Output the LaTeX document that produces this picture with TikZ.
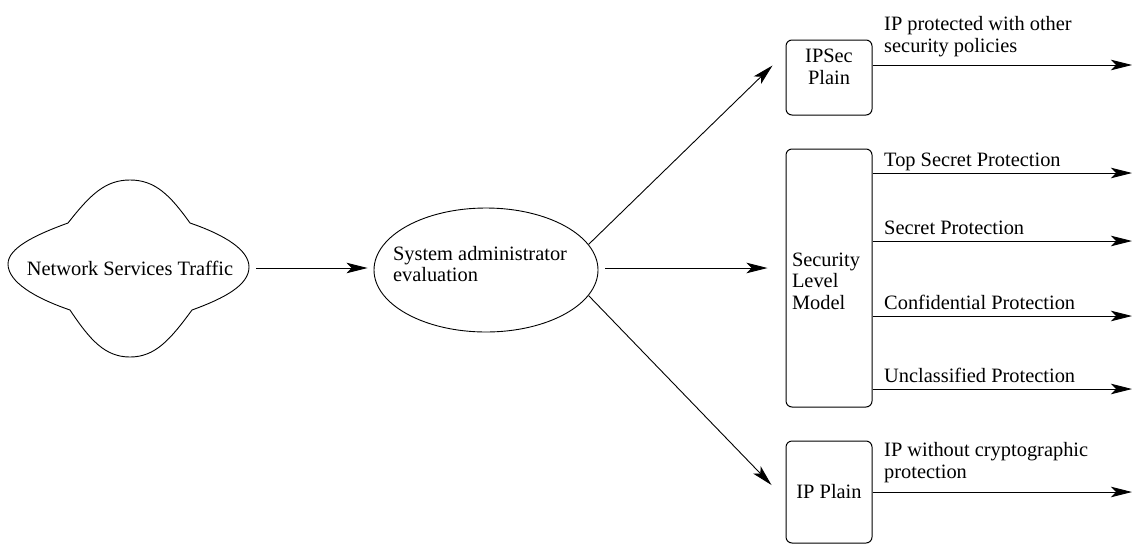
\documentclass[tikz,border=0pt]{standalone}
\usepackage{fontspec}
\setmainfont{Liberation Serif}
\usetikzlibrary{shapes.geometric,arrows.meta}
\begin{document}
\begin{tikzpicture}[x=1pt,y=-1pt,
  every node/.style={font=\fontsize{20.4}{21.5}\selectfont},
  arr/.style={line width=0.9pt,-{Stealth[length=21pt,width=10.5pt,inset=5pt]}},
  boxnode/.style={draw,line width=1pt,rounded corners=6pt,minimum width=86pt,inner sep=0pt},
  lbl/.style={anchor=base west,inner sep=0pt,align=left}]
\useasboundingbox (0,0) rectangle (1132,544);
% cloud
\draw[line width=0.9pt] (68,223) .. controls (90,195) and (105,180) .. (130,180)
  .. controls (155,180) and (170,195) .. (190,223)
  .. controls (225,235) and (249,250) .. (249,267)
  .. controls (249,285) and (225,298) .. (192,310)
  .. controls (170,340) and (155,357) .. (130,357)
  .. controls (105,357) and (90,340) .. (70,310)
  .. controls (35,298) and (8,282) .. (8,264)
  .. controls (8,248) and (35,235) .. (68,223) -- cycle;
\node[inner sep=0pt] (net) at (130,268) {Network Services Traffic};
\coordinate (netR) at (256,268);
% ellipse
\node[draw,ellipse,line width=0.9pt,minimum width=224pt,minimum height=124pt,inner sep=0pt] (eval) at (486,270) {};
\node[align=left,inner sep=0pt] (evaltxt) at (480,264) {System administrator\\evaluation};
% boxes
\node[boxnode,minimum height=75pt] (ipsec) at (829,77.5) {};
\node[align=center,inner sep=0pt] (ipsectxt) at (829,67) {IPSec\\Plain};
\node[boxnode,minimum height=258pt] (slm) at (829,278) {};
\node[align=left,inner sep=0pt] (slmtxt) at (826,281) {Security\\Level\\Model};
\node[boxnode,minimum height=102pt] (ipp) at (829,492) {};
\node[inner sep=0pt] (ipptxt) at (829,492) {IP Plain};
% arrows into/out of eval
\draw[arr,shorten >=6pt] (netR) -- (netR -| eval.west);
\draw[arr] (eval.14) -- ([shift={(-13,-12)}]ipsec.west);
\draw[arr] ([shift={(7,-2)}]eval.east) -- ([shift={(-18,-10)}]slm.west);
\draw[arr] (eval.-14) -- ([shift={(-14,-7)}]ipp.west);
% outputs
\coordinate (o1) at (1132,65);
\coordinate (o2) at (1132,173);
\coordinate (o3) at (1132,241);
\coordinate (o4) at (1132,316);
\coordinate (o5) at (1132,389);
\coordinate (o6) at (1132,492);
\draw[arr] (ipsec.east |- o1) -- (o1);
\draw[arr] (slm.east |- o2) -- (o2);
\draw[arr] (slm.east |- o3) -- (o3);
\draw[arr] (slm.east |- o4) -- (o4);
\draw[arr] (slm.east |- o5) -- (o5);
\draw[arr] (ipp.east |- o6) -- (o6);
\node[lbl] (l1) at (884,52) {IP protected with other\\security policies};
\node[lbl] (l2) at (884,166) {Top Secret Protection};
\node[lbl] (l3) at (884,234) {Secret Protection};
\node[lbl] (l4) at (884,309) {Confidential Protection};
\node[lbl] (l5) at (884,382) {Unclassified Protection};
\node[lbl] (l6) at (884,478) {IP without cryptographic\\protection};
\end{tikzpicture}
\end{document}
